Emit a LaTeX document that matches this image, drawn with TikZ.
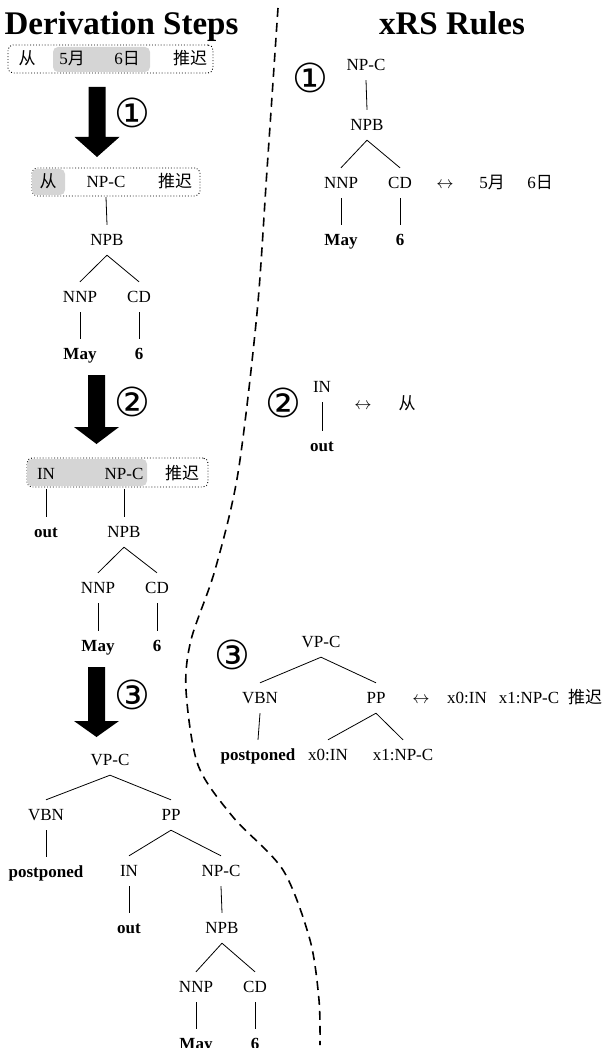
\documentclass[tikz,border=0pt]{standalone}
\usepackage{fontspec}
\setmainfont{Liberation Serif}
\newfontfamily\cjk{Noto Sans CJK SC}
\newfontfamily\circfont{DejaVu Sans}
\begin{document}
\begin{tikzpicture}[x=1pt,y=-1pt]
\tikzset{
 lab/.style={inner sep=0pt, minimum height=30pt, text height=11.5pt, text depth=0pt, font=\fontsize{17}{20}\selectfont},
 word/.style={lab, font=\fontsize{17}{20}\selectfont\bfseries},
 zh/.style={lab, font=\fontsize{17}{20}\selectfont\cjk},
 circ/.style={inner sep=0pt, font=\fontsize{40}{44}\selectfont\circfont},
 heading/.style={anchor=base, inner sep=0pt, font=\fontsize{33}{40}\selectfont\bfseries},
 branch/.style={line width=0.8pt},
 dotbox/.style={draw, dotted, line width=0.9pt, rounded corners=5pt, inner sep=0pt},
 hibox/.style={fill=gray!33, rounded corners=5pt, inner sep=0pt},
 divider/.style={dash pattern=on 9pt off 6pt, line width=1.6pt},
 bigarrow/.style={fill=black},
}
\useasboundingbox (0,0) rectangle (605,1048);

% titles
\node[heading] (t1) at (121.5,35) {Derivation Steps};
\node[heading] (t2) at (452,35) {xRS Rules};

% divider
\draw[divider] plot[smooth] coordinates {(278,8) (267,170) (257,313) (238,473) (215,570) (191,640) (186,690) (198,765) (233,817) (283,870) (310,940) (319,1000) (320,1045)};

% ---- row 1
\node[dotbox, minimum width=205pt, minimum height=28pt] (box1) at (110.5,59) {};
\node[hibox, minimum width=97pt, minimum height=25pt] (hl1) at (101.5,59.5) {};
\node[zh] (c1a) at (27,59) {从};
\node[lab] (c1b) at (72,59) {5{\cjk 月}};
\node[lab] (c1c) at (127,59) {6{\cjk 日}};
\node[zh] (c1d) at (190,59) {推迟};

\fill[bigarrow] (88.5,87) -- (105.5,87) -- (105.5,137) -- (119.5,137) -- (97,157) -- (74.5,137) -- (88.5,137) -- cycle;
\node[circ] (s1) at (132,113) {①};

% ---- row 2
\node[dotbox, minimum width=168pt, minimum height=28pt] (box2) at (116,182) {};
\node[hibox, minimum width=33pt, minimum height=26pt] (hl2) at (48.5,182) {};
\node[zh] (c2a) at (48,182) {从};
\node[lab] (npc2) at (106,182) {NP-C};
\node[zh] (c2d) at (175,182) {推迟};
\node[lab] (npb2) at (107,240) {NPB};
\node[lab] (nnp2) at (80,297) {NNP};
\node[lab] (cd2) at (139,297) {CD};
\node[word] (may2) at (80,354) {May};
\node[word] (six2) at (139,354) {6};
\draw[branch] (npc2.south) -- (npb2.north);
\draw[branch] (npb2.south) -- (nnp2.north);
\draw[branch] (npb2.south) -- (cd2.north);
\draw[branch] (nnp2.south) -- (may2.north);
\draw[branch] (cd2.south) -- (six2.north);

\fill[bigarrow] (88,375) -- (105,375) -- (105,427) -- (119,427) -- (96.5,444) -- (74,427) -- (88,427) -- cycle;
\node[circ] (s2) at (132,402) {②};

% ---- row 3
\node[dotbox, minimum width=181pt, minimum height=29pt] (box3) at (117.5,472.5) {};
\node[hibox, minimum width=120pt, minimum height=27pt] (hl3) at (87,472.5) {};
\node[lab] (in3) at (46,474) {IN};
\node[lab] (npc3) at (124,474) {NP-C};
\node[zh] (c3d) at (182,474) {推迟};
\node[word] (out3) at (46,532) {out};
\node[lab] (npb3) at (124,532) {NPB};
\node[lab] (nnp3) at (98,588) {NNP};
\node[lab] (cd3) at (157,588) {CD};
\node[word] (may3) at (98,646) {May};
\node[word] (six3) at (157,646) {6};
\draw[branch] (in3.south) -- (out3.north);
\draw[branch] (npc3.south) -- (npb3.north);
\draw[branch] (npb3.south) -- (nnp3.north);
\draw[branch] (npb3.south) -- (cd3.north);
\draw[branch] (nnp3.south) -- (may3.north);
\draw[branch] (cd3.south) -- (six3.north);

\fill[bigarrow] (88,667) -- (105,667) -- (105,721) -- (119,721) -- (96.5,737) -- (74,721) -- (88,721) -- cycle;
\node[circ] (s3) at (132,695) {③};

% ---- row 4
\node[lab] (vpc4) at (110,760) {VP-C};
\node[lab] (vbn4) at (46,815) {VBN};
\node[lab] (pp4) at (171,815) {PP};
\node[word] (post4) at (46,872) {postponed};
\node[lab] (in4) at (129,871) {IN};
\node[lab] (npc4) at (221,871) {NP-C};
\node[word] (out4) at (129,928) {out};
\node[lab] (npb4) at (222,928) {NPB};
\node[lab] (nnp4) at (196,987) {NNP};
\node[lab] (cd4) at (255,987) {CD};
\node[word] (may4) at (196,1044) {May};
\node[word] (six4) at (255,1044) {6};
\draw[branch] (vpc4.south) -- (vbn4.north);
\draw[branch] (vpc4.south) -- (pp4.north);
\draw[branch] (vbn4.south) -- (post4.north);
\draw[branch] (pp4.south) -- (in4.north);
\draw[branch] (pp4.south) -- (npc4.north);
\draw[branch] (in4.south) -- (out4.north);
\draw[branch] (npc4.south) -- (npb4.north);
\draw[branch] (npb4.south) -- (nnp4.north);
\draw[branch] (npb4.south) -- (cd4.north);
\draw[branch] (nnp4.south) -- (may4.north);
\draw[branch] (cd4.south) -- (six4.north);

% ---- rule 1
\node[circ] (r1) at (310,78) {①};
\node[lab] (rnpc1) at (366,65) {NP-C};
\node[lab] (rnpb1) at (367,125) {NPB};
\node[lab] (rnnp1) at (341,183) {NNP};
\node[lab] (rcd1) at (400,183) {CD};
\node[lab] (rarr1) at (445,183) {$\leftrightarrow$};
\node[lab] (rz1a) at (492,183) {5{\cjk 月}};
\node[lab] (rz1b) at (540,183) {6{\cjk 日}};
\node[word] (rmay1) at (341,240) {May};
\node[word] (rsix1) at (400,240) {6};
\draw[branch] (rnpc1.south) -- (rnpb1.north);
\draw[branch] (rnpb1.south) -- (rnnp1.north);
\draw[branch] (rnpb1.south) -- (rcd1.north);
\draw[branch] (rnnp1.south) -- (rmay1.north);
\draw[branch] (rcd1.south) -- (rsix1.north);

% ---- rule 2
\node[circ] (r2) at (283,403) {②};
\node[lab] (rin2) at (322,387) {IN};
\node[word] (rout2) at (322,446) {out};
\node[lab] (rarr2) at (363,404) {$\leftrightarrow$};
\node[zh] (rz2) at (407,404) {从};
\draw[branch] (rin2.south) -- (rout2.north);

% ---- rule 3
\node[circ] (r3) at (232,655) {③};
\node[lab] (rvpc3) at (321,642) {VP-C};
\node[lab] (rvbn3) at (260,698) {VBN};
\node[lab] (rpp3) at (376,698) {PP};
\node[lab] (rarr3) at (421,698) {$\leftrightarrow$};
\node[lab] (rx0a) at (467,698) {x0:IN};
\node[lab] (rx1a) at (529,698) {x1:NP-C};
\node[zh] (rz3) at (585,698) {推迟};
\node[word] (rpost3) at (258,755) {postponed};
\node[lab] (rx0b) at (328,755) {x0:IN};
\node[lab] (rx1b) at (403,755) {x1:NP-C};
\draw[branch] (rvpc3.south) -- (rvbn3.north);
\draw[branch] (rvpc3.south) -- (rpp3.north);
\draw[branch] (rvbn3.south) -- (rpost3.north);
\draw[branch] (rpp3.south) -- (rx0b.north);
\draw[branch] (rpp3.south) -- (rx1b.north);
\end{tikzpicture}
\end{document}
